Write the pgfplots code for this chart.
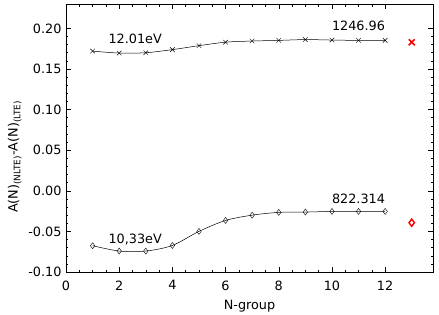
\documentclass[border=0pt]{standalone}
\usepackage{pgfplots}
\pgfplotsset{compat=1.18}
\usepackage{fontspec}
\setmainfont{DejaVu Sans}
\newcommand{\fs}{\fontsize{12.8}{15}\selectfont}
\begin{document}
\begin{tikzpicture}
\begin{axis}[name=ax,
  scale only axis, width=367pt, height=268pt,
  xmin=0, xmax=13.8, ymin=-0.10, ymax=0.23,
  xtick={0,2,4,6,8,10,12}, minor x tick num=3,
  ytick={-0.10,-0.05,0,0.05,0.10,0.15,0.20}, minor y tick num=4,
  tick align=inside, major tick length=5pt, minor tick length=2.5pt,
  tick style={black, line width=0.5pt},
  axis line style={line width=0.6pt},
  yticklabel style={xshift=-1pt, /pgf/number format/fixed, /pgf/number format/fixed zerofill, /pgf/number format/precision=2},
  /pgf/number format/assume math mode=true,
  ticklabel style={font=\fs},
  xticklabel style={yshift=-5pt},
  label style={font=\fs},
  xlabel={N-group},
  ylabel={A(N)\textsubscript{(NLTE)}-A(N)\textsubscript{(LTE)}},
  xlabel style={at={(ticklabel cs:0.5)}, anchor=north, yshift=-3pt},
  ylabel style={at={(ticklabel cs:0.43)}, anchor=south, yshift=0pt},
  clip=false,
]
\addplot[black, line width=0.5pt, smooth, mark=x, mark size=3.2pt, mark options={line width=0.4pt}] coordinates {
(1,0.172) (2,0.1696) (3,0.170) (4,0.1738) (5,0.1787) (6,0.183) (7,0.1844) (8,0.1852) (9,0.1862) (10,0.1856) (11,0.1852) (12,0.1852)};
\addplot[black, line width=0.5pt, smooth, mark=diamond, mark size=3pt, mark options={line width=0.4pt}] coordinates {
(1,-0.0676) (2,-0.0742) (3,-0.0742) (4,-0.0673) (5,-0.050) (6,-0.0365) (7,-0.030) (8,-0.0266) (9,-0.0262) (10,-0.0254) (11,-0.0254) (12,-0.0254)};
\addplot[red, only marks, mark=x, mark size=4.2pt, mark options={line width=1.6pt}] coordinates {(13,0.1828)};
\addplot[red, only marks, mark=diamond, mark size=3.6pt, mark options={line width=1.4pt}] coordinates {(13,-0.0393)};
\node[font=\fs] at (axis cs:2.6,0.1865) {12.01eV};
\node[font=\fs] at (axis cs:11.0,0.2037) {1246.96};
\node[font=\fs] at (axis cs:2.6,-0.060) {10,33eV};
\node[font=\fs] at (axis cs:11.0,-0.0094) {822.314};
\end{axis}
\pgfresetboundingbox
\path (ax.south west) ++(-66pt,-42pt) coordinate (bl);
\path (ax.north east) ++(6pt,4pt) coordinate (tr);
\path[use as bounding box] (bl) rectangle (tr);
\end{tikzpicture}
\end{document}
